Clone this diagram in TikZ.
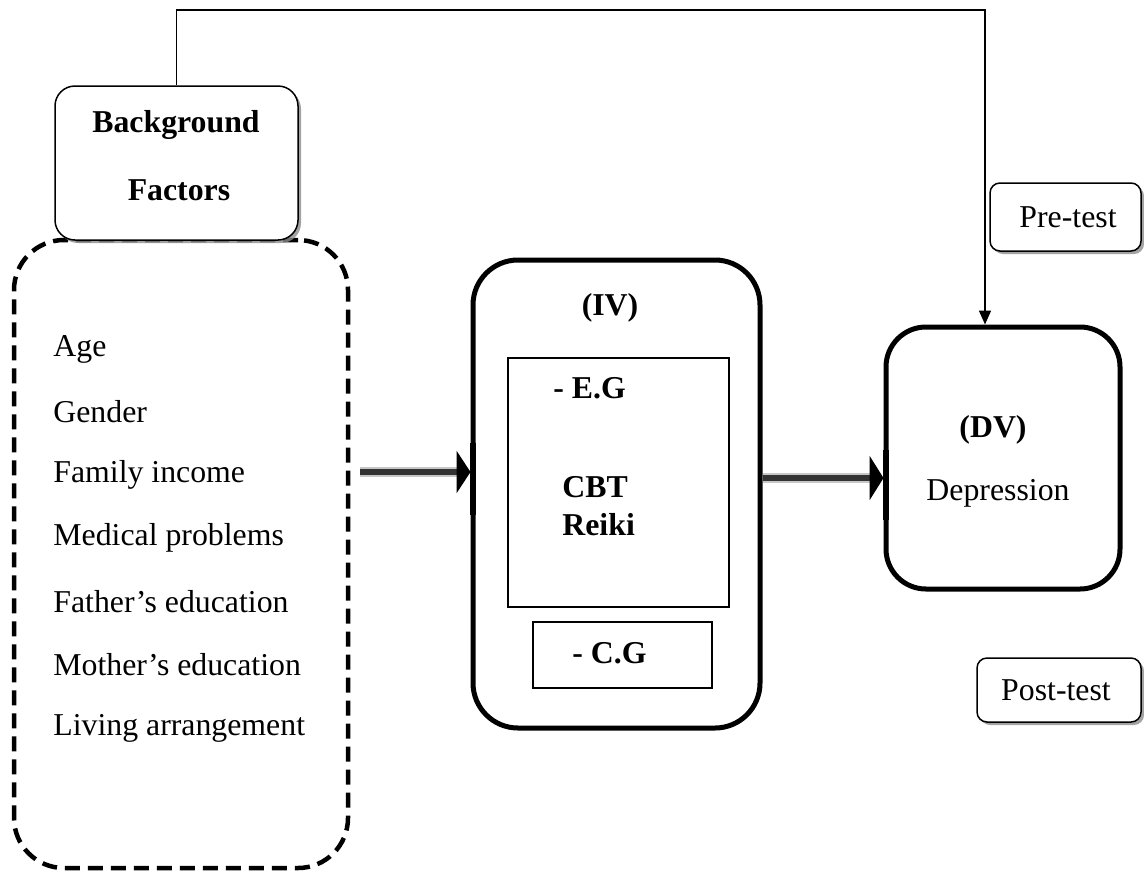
\documentclass[tikz,border=0pt]{standalone}
\usepackage{fontspec}
\setmainfont{Liberation Serif}
\usetikzlibrary{arrows.meta,shadows}
\begin{document}
\begin{tikzpicture}[x=0.5pt,y=-0.5pt,
  txt/.style={font=\fontsize{15.9}{19}\selectfont, inner sep=0pt},
  btxt/.style={font=\fontsize{15.9}{19}\selectfont\bfseries, inner sep=0pt},
  shbox/.style={draw, line width=0.75pt, fill=white, inner sep=0pt,
    drop shadow={shadow xshift=1.5pt, shadow yshift=-1.5pt, fill=black!45, opacity=0.8}},
  dashbox/.style={draw, line width=2.25pt, dash pattern=on 7.5pt off 4pt, rounded corners=25pt, inner sep=0pt},
  thickbox/.style={draw, line width=2.5pt, fill=white, inner sep=0pt},
  rectbox/.style={draw, line width=0.75pt, inner sep=0pt},
  shaftsoft/.style={line width=5pt, black!22},
  shaftcore/.style={line width=2.6pt, black!80},
  thinarrow/.style={line width=0.8pt, -{Triangle[length=7pt,width=6pt]}}
]
\useasboundingbox (0,0) rectangle (1144,873);

% left dashed box
\node[dashbox, minimum width=167pt, minimum height=314pt] (lf) at (181,554) {};
% background factors box
\node[shbox, rounded corners=10pt, minimum width=121.5pt, minimum height=77pt] (bg) at (176.5,163) {};
\node[btxt] (bg1) at (176,125) {Background};
\node[btxt] (bg2) at (179,190) {Factors};

% list
\node[txt, anchor=west] (l1) at (53,349) {Age};
\node[txt, anchor=west] (l2) at (53,412) {Gender};
\node[txt, anchor=west] (l3) at (53,475) {Family income};
\node[txt, anchor=west] (l4) at (53,538) {Medical problems};
\node[txt, anchor=west] (l5) at (53,602) {Father’s education};
\node[txt, anchor=west] (l6) at (53,665) {Mother’s education};
\node[txt, anchor=west] (l7) at (53,728) {Living arrangement};

% IV box
\node[thickbox, rounded corners=22.5pt, minimum width=143.5pt, minimum height=234pt] (iv) at (616.5,494) {};
\node[btxt] (ivl) at (610,308) {(IV)};
\node[rectbox, minimum width=110.5pt, minimum height=124.5pt] (eg) at (618.5,482.5) {};
\node[btxt, anchor=west] (egl) at (553,388) {- E.G};
\node[btxt, anchor=west] (cbt) at (562,487) {CBT};
\node[btxt, anchor=west] (rei) at (562,525) {Reiki};
\node[rectbox, minimum width=89.5pt, minimum height=33pt] (cg) at (622.5,655) {};
\node[btxt, anchor=west] (cgl) at (572,653) {- C.G};

% DV box
\node[thickbox, rounded corners=20pt, minimum width=117pt, minimum height=131pt] (dv) at (1003,458) {};
\node[btxt] (dvl) at (993,430) {(DV)};
\node[txt] (dep) at (998,493) {Depression};

% pre / post test
\node[shbox, rounded corners=5pt, minimum width=75.5pt, minimum height=34pt, txt] (pre) at (1065.5,217) {\hspace*{2.5pt}Pre-test};
\node[shbox, rounded corners=5pt, minimum width=82pt, minimum height=32pt, txt] (post) at (1059,690) {\hspace*{-3pt}Post-test};

% top connector
\coordinate (tr) at (985,10);
\draw[thinarrow] (bg.north) |- (tr) -- (tr |- dv.north);

% main arrows
\coordinate (a1) at (0,472);
\coordinate (a2) at (0,478);
\draw[shaftsoft, shorten <=5pt, shorten >=7pt] (lf.east |- a1) -- (iv.west |- a1);
\draw[shaftcore, shorten <=5pt, -{Triangle[length=7pt,width=21pt,color=black]}] (lf.east |- a1) -- (iv.west |- a1);
\draw[shaftsoft, shorten >=7pt] (iv.east |- a2) -- (dv.west |- a2);
\draw[shaftcore, -{Triangle[length=7pt,width=22pt,color=black]}] (iv.east |- a2) -- (dv.west |- a2);
\draw[line width=3pt] ([xshift=1pt]iv.west |- 0,443) -- ([xshift=1pt]iv.west |- 0,515);
\draw[line width=3pt] ([xshift=1pt]dv.west |- 0,450) -- ([xshift=1pt]dv.west |- 0,520);
\end{tikzpicture}
\end{document}
